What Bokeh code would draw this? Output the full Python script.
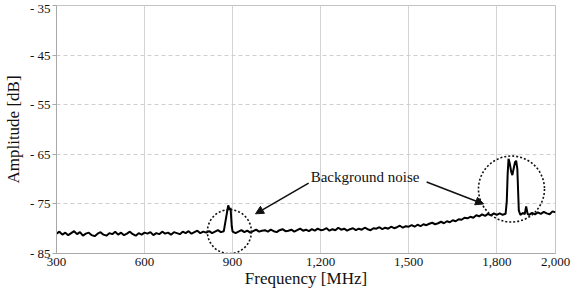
from bokeh.plotting import figure
from bokeh.models import (Range1d, FixedTicker, NumeralTickFormatter, Arrow,
                          NormalHead, Label)
from bokeh.embed import file_html
from bokeh.resources import INLINE

# ---------------- data ----------------
freq = (list(range(300, 871, 10)) + [880, 885, 890, 893, 897]
        + list(range(900, 1831, 10))
        + [1834, 1837, 1840, 1844, 1849, 1853, 1857, 1862, 1866, 1870, 1875]
        + [1880, 1890, 1895, 1900, 1905]
        + list(range(1910, 2001, 10)))

amp = [
    # 300-400
    -81.0, -80.6, -81.2, -80.8, -81.3, -80.9, -80.5, -81.1, -80.7, -81.4, -81.0,
    # 410-500
    -80.8, -81.3, -81.5, -81.0, -80.7, -81.2, -81.4, -80.9, -81.1, -80.6,
    # 510-600
    -81.2, -80.8, -81.3, -81.0, -80.6, -81.1, -81.4, -80.9, -81.2, -80.8,
    # 610-700
    -81.0, -80.7, -81.3, -80.9, -81.1, -80.6, -81.0, -80.8, -81.2, -80.7,
    # 710-800
    -80.9, -81.1, -80.6, -80.9, -80.5, -81.0, -80.7, -80.4, -80.9, -80.6,
    # 810-870
    -80.8, -80.5, -80.9, -80.6, -80.3, -80.7, -80.5,
    # GSM-900 peak
    -77.0, -75.3, -76.2, -75.8, -79.5,
    # 900
    -80.6,
    # 910-1000
    -80.9, -80.6, -80.3, -80.7, -80.4, -80.8, -80.5, -80.2, -80.6, -80.4,
    # 1010-1100
    -80.3, -80.6, -80.2, -80.5, -80.7, -80.3, -80.1, -80.5, -80.4, -80.2,
    # 1110-1200
    -80.6, -80.3, -80.0, -80.4, -80.2, -80.5, -80.1, -80.4, -80.0, -80.3,
    # 1210-1300
    -80.2, -79.9, -80.4, -80.1, -80.3, -79.8, -80.2, -80.0, -80.4, -80.1,
    # 1310-1400
    -79.9, -80.3, -80.0, -80.2, -79.8, -80.1, -80.3, -79.9, -80.0, -79.7,
    # 1410-1500
    -80.1, -79.8, -80.0, -79.6, -79.9, -79.7, -79.4, -79.8, -79.5, -79.6,
    # 1510-1600
    -79.3, -79.6, -79.2, -79.5, -79.1, -79.3, -79.0, -78.8, -79.1, -78.9,
    # 1610-1700
    -78.6, -78.9, -78.5, -78.7, -78.3, -78.5, -78.1, -78.2, -77.8, -77.9,
    # 1710-1800
    -77.6, -77.8, -77.3, -77.5, -77.1, -77.4, -77.0, -77.3, -76.9, -77.2,
    # 1810-1830
    -76.9, -77.2, -77.0,
    # DCS-1800 double peak
    -74.5, -69.0, -65.9, -66.8, -68.5, -69.2, -68.0, -66.6, -66.3, -68.0, -76.3,
    # 1880-1905
    -77.2, -76.8, -77.1, -75.5, -77.0,
    # 1910-2000
    -77.2, -76.8, -77.1, -76.7, -77.0, -76.6, -76.9, -77.1, -76.5, -76.7,
]
assert len(freq) == len(amp)

y_ticks = [-85, -75, -65, -55, -45, -35]
y_tick_labels = ["- 85", "- 75", "- 65", "- 55", "- 45", "- 35"]
x_ticks = [300, 600, 900, 1200, 1500, 1800, 2000]

# annotation: dotted circles around the signals (center MHz, center dB, radius px)
circ_x = [889, 1850]
circ_y = [-80.6, -72.0]
circ_r = [22, 33]
note_text = "Background noise"
note_pos = (1166, -69.5)
arrows = [((1159, -70.8), (978, -77.0)), ((1561, -70.6), (1755, -75.0))]

FONT = "Liberation Serif"

p = figure(output_backend="svg", toolbar_location=None,
           x_range=Range1d(300, 2000), y_range=Range1d(-85, -35),
           frame_width=499, frame_height=248,
           min_border_left=55, min_border_right=17, min_border_top=5,
           min_border_bottom=30)
p.background_fill_color = "white"
p.border_fill_color = "white"
p.outline_line_color = "#c4c4c4"
p.outline_line_width = 1

# grids
p.xgrid.ticker = FixedTicker(ticks=x_ticks)
p.xgrid.grid_line_color = "#d4d4d4"
p.xgrid.grid_line_width = 1
p.ygrid.ticker = FixedTicker(ticks=y_ticks)
p.ygrid.grid_line_color = "#cfcfcf"
p.ygrid.grid_line_dash = "4 3"
p.ygrid.grid_line_width = 1

# axes
p.xaxis.ticker = FixedTicker(ticks=x_ticks)
p.xaxis.formatter = NumeralTickFormatter(format="0,0")
p.yaxis.ticker = FixedTicker(ticks=y_ticks)
p.yaxis.major_label_overrides = {t: l for t, l in zip(y_ticks, y_tick_labels)}
for ax in (p.xaxis[0], p.yaxis[0]):
    ax.axis_line_color = "#a8a8a8"
    ax.axis_line_width = 1
    ax.major_tick_line_color = "#a8a8a8"
    ax.minor_tick_line_color = None
    ax.major_tick_in = 0
    ax.major_label_text_font = FONT
    ax.major_label_text_font_size = "13px"
    ax.major_label_text_color = "#111111"
    ax.axis_label_text_font = FONT
    ax.axis_label_text_font_style = "normal"
    ax.axis_label_text_font_size = "17px"
    ax.axis_label_text_color = "#111111"
p.xaxis.major_tick_out = 0
p.yaxis.major_tick_out = 4
p.xaxis.major_label_standoff = 4
p.yaxis.major_label_standoff = 2
p.xaxis.axis_label = "Frequency [MHz]"
p.yaxis.axis_label = "Amplitude [dB]"
p.xaxis.axis_label_standoff = 0
p.yaxis.axis_label_standoff = 4

# spectrum trace
p.line(freq, amp, line_color="black", line_width=2.0)

# dotted circles
p.circle(x=circ_x, y=circ_y, radius=circ_r, radius_units="screen",
         fill_color=None, line_color="#111111", line_width=1.6,
         line_dash="2 2")

# arrows and note
for (x0, y0), (x1, y1) in arrows:
    p.add_layout(Arrow(x_start=x0, y_start=y0, x_end=x1, y_end=y1,
                       line_color="#111111", line_width=1.6,
                       end=NormalHead(size=8, fill_color="#111111",
                                      line_color="#111111")))
p.add_layout(Label(x=note_pos[0], y=note_pos[1], text=note_text,
                   text_font=FONT, text_font_size="15px",
                   text_color="#111111", text_baseline="middle",
                   text_align="left"))

open("out.html", "w").write(file_html(p, INLINE))
